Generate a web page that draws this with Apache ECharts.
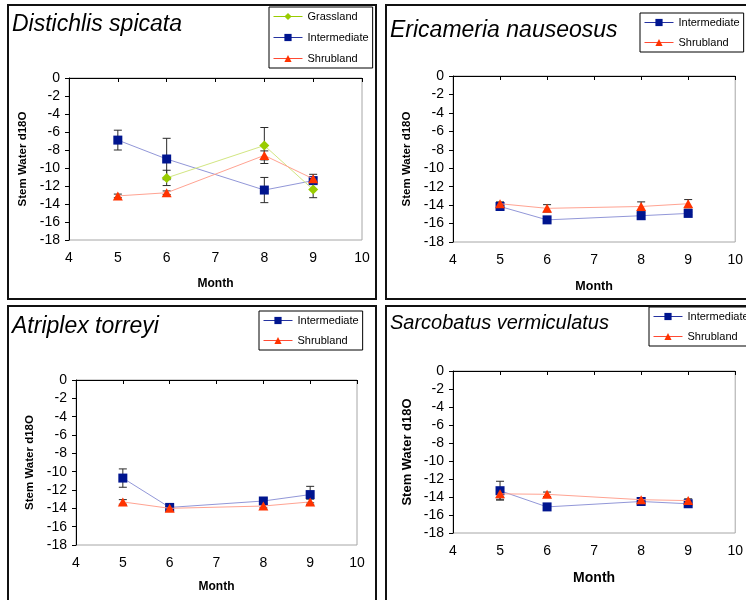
<!DOCTYPE html>
<html>
<head>
<meta charset="utf-8">
<script src="https://cdn.jsdelivr.net/npm/echarts@6/dist/echarts.min.js"></script>
<style>
html,body{margin:0;padding:0;background:#fff;}
#chart{width:746px;height:600px;}
</style>
</head>
<body>
<div id="chart"></div>
<script>
// ---------- data ----------
const months = [5, 6, 8, 9];
const xTicks = [4, 5, 6, 7, 8, 9, 10];
const yTicks = [0, -2, -4, -6, -8, -10, -12, -14, -16, -18];

const panelTitles = ["Distichlis spicata", "Ericameria nauseosus", "Atriplex torreyi", "Sarcobatus vermiculatus"];

// Panel 1: Distichlis spicata
const p1Grassland = [null, -11.1, -7.5, -12.4];
const p1GrasslandErr = [0, 0.85, 2.0, 0.9];
const p1Intermediate = [-6.9, -9.0, -12.45, -11.4];
const p1IntermediateErr = [1.1, 2.3, 1.4, 0.3];
const p1Shrubland = [-13.1, -12.75, -8.6, -11.2];
const p1ShrublandErr = [0.2, 0.2, 0.5, 0.5];

// Panel 2: Ericameria nauseosus
const p2Intermediate = [-14.15, -15.6, -15.15, -14.9];
const p2IntermediateErr = [0.3, 0.2, 0.4, 0.15];
const p2Shrubland = [-13.85, -14.35, -14.15, -13.85];
const p2ShrublandErr = [0.2, 0.4, 0.5, 0.45];

// Panel 3: Atriplex torreyi
const p3Intermediate = [-10.7, -13.9, -13.2, -12.5];
const p3IntermediateErr = [1.0, 0.15, 0.3, 0.9];
const p3Shrubland = [-13.3, -14.0, -13.75, -13.3];
const p3ShrublandErr = [0.25, 0.2, 0.2, 0.3];

// Panel 4: Sarcobatus vermiculatus
const p4Intermediate = [-13.3, -15.1, -14.5, -14.75];
const p4IntermediateErr = [1.05, 0.15, 0.2, 0.2];
const p4Shrubland = [-13.65, -13.7, -14.3, -14.4];
const p4ShrublandErr = [0.6, 0.25, 0.2, 0.2];

// ---------- styling ----------
const FONT = "'Liberation Sans', Arial, sans-serif";
const styles = {
  Grassland:    { symbol: 'diamond',  size: 10,     marker: '#99cc00', line: '#d2e682', legendLine: '#99cc00' },
  Intermediate: { symbol: 'rect',     size: 9,      marker: '#00158f', line: '#9297d8', legendLine: '#2633a0' },
  Shrubland:    { symbol: 'triangle', size: [10, 9], marker: '#ff3300', line: '#ffa392', legendLine: '#ff4a33' }
};

const panels = [
  { grid: { left: 69, top: 78, width: 293, height: 162 }, yNameGap: 40, xNameGap: 38, yNameSize: 11.5, xNameSize: 12,
    title: { left: 12, top: 13, size: 23 },
    legend: { left: 269, top: 7, itemGap: 10 },
    series: [['Grassland', p1Grassland, p1GrasslandErr], ['Intermediate', p1Intermediate, p1IntermediateErr], ['Shrubland', p1Shrubland, p1ShrublandErr]] },
  { grid: { left: 453, top: 76, width: 284, height: 166 }, yNameGap: 40, xNameGap: 38, yNameSize: 11.5, xNameSize: 12.5,
    title: { left: 390, top: 19, size: 23 },
    legend: { left: 640, top: 13, itemGap: 9 },
    series: [['Intermediate', p2Intermediate, p2IntermediateErr], ['Shrubland', p2Shrubland, p2ShrublandErr]] },
  { grid: { left: 76, top: 380, width: 281, height: 165 }, yNameGap: 40, xNameGap: 36, yNameSize: 11.5, xNameSize: 12,
    title: { left: 12, top: 315, size: 23 },
    legend: { left: 259, top: 311, itemGap: 9 },
    series: [['Intermediate', p3Intermediate, p3IntermediateErr], ['Shrubland', p3Shrubland, p3ShrublandErr]] },
  { grid: { left: 453, top: 371, width: 288, height: 162 }, yNameGap: 39, xNameGap: 38, yNameSize: 13, xNameSize: 14,
    title: { left: 390, top: 313, size: 20 },
    legend: { left: 649, top: 307, itemGap: 9 },
    series: [['Intermediate', p4Intermediate, p4IntermediateErr], ['Shrubland', p4Shrubland, p4ShrublandErr]] }
];

const grids = [], xAxes = [], yAxes = [], titles = [], legends = [], series = [];

function errorBarRender(params, api) {
  const x = api.value(0), lo = api.value(1), hi = api.value(2);
  const a = api.coord([x, hi]), b = api.coord([x, lo]);
  const hw = 4;
  const st = { stroke: '#2a2a2a', lineWidth: 1 };
  return { type: 'group', children: [
    { type: 'line', shape: { x1: a[0], y1: a[1], x2: b[0], y2: b[1] }, style: st },
    { type: 'line', shape: { x1: a[0] - hw, y1: a[1], x2: a[0] + hw, y2: a[1] }, style: st },
    { type: 'line', shape: { x1: b[0] - hw, y1: b[1], x2: b[0] + hw, y2: b[1] }, style: st }
  ]};
}

panels.forEach((p, i) => {
  grids.push(Object.assign({ show: true, borderColor: '#a6a6a6', borderWidth: 1, backgroundColor: '#fff', containLabel: false }, p.grid));
  xAxes.push({
    type: 'value', gridIndex: i, min: xTicks[0], max: xTicks[xTicks.length - 1], interval: 1,
    name: 'Month', nameLocation: 'middle', nameGap: p.xNameGap,
    nameTextStyle: { fontFamily: FONT, fontWeight: 'bold', fontSize: p.xNameSize, color: '#000' },
    axisLine: { lineStyle: { color: '#000', width: 1 } },
    axisTick: { length: 4, lineStyle: { color: '#000' } },
    axisLabel: { fontFamily: FONT, fontSize: 14, color: '#000', margin: 11 },
    splitLine: { show: false }
  });
  yAxes.push({
    type: 'value', gridIndex: i, min: yTicks[yTicks.length - 1], max: yTicks[0], interval: 2,
    name: 'Stem Water d18O', nameLocation: 'middle', nameGap: p.yNameGap,
    nameTextStyle: { fontFamily: FONT, fontWeight: 'bold', fontSize: p.yNameSize, color: '#000' },
    axisLine: { show: true, lineStyle: { color: '#000', width: 1 } },
    axisTick: { show: true, length: 4, lineStyle: { color: '#000' } },
    axisLabel: { fontFamily: FONT, fontSize: 14, color: '#000', margin: 9 },
    splitLine: { show: false }
  });
  titles.push({
    text: panelTitles[i], left: p.title.left, top: p.title.top, padding: 0,
    textStyle: { fontFamily: FONT, fontStyle: 'italic', fontWeight: 'normal', fontSize: p.title.size, color: '#000' }
  });
  legends.push({
    orient: 'vertical', left: p.legend.left, top: p.legend.top,
    padding: [4, 4, 4, 4], itemGap: p.legend.itemGap, itemWidth: 29, itemHeight: 9,
    borderColor: '#000', borderWidth: 1, backgroundColor: '#fff',
    textStyle: { fontFamily: FONT, fontSize: 11, color: '#000' },
    selectedMode: false,
    data: p.series.map(s => ({ name: s[0], lineStyle: { color: styles[s[0]].legendLine, width: 1, opacity: 1 } }))
  });
  p.series.forEach(s => {
    const name = s[0], vals = s[1], errs = s[2], st = styles[name];
    const pts = [], eb = [];
    months.forEach((m, k) => {
      if (vals[k] === null) return;
      pts.push([m, vals[k]]);
      if (errs[k] > 0) eb.push([m, vals[k] - errs[k], vals[k] + errs[k]]);
    });
    series.push({
      type: 'custom', xAxisIndex: i, yAxisIndex: i, z: 2, silent: true,
      renderItem: errorBarRender, encode: { x: 0, y: [1, 2] }, data: eb
    });
    series.push({
      name: name, type: 'line', xAxisIndex: i, yAxisIndex: i, z: 3 + (name === 'Intermediate' ? 0 : 1),
      data: pts, symbol: st.symbol, symbolSize: st.size, showSymbol: true,
      lineStyle: { color: st.line, width: 1 },
      itemStyle: { color: st.marker, borderWidth: 0 },
      emphasis: { disabled: true },
      animation: false
    });
  });
});

const frameStyle = { fill: 'none', stroke: '#111', lineWidth: 2 };
const graphics = [
  { type: 'rect', shape: { x: 8, y: 5, width: 368, height: 294 }, style: frameStyle, z: 100 },
  { type: 'rect', shape: { x: 386, y: 5, width: 380, height: 294 }, style: frameStyle, z: 100 },
  { type: 'rect', shape: { x: 8, y: 306, width: 368, height: 320 }, style: frameStyle, z: 100 },
  { type: 'rect', shape: { x: 386, y: 306, width: 380, height: 320 }, style: frameStyle, z: 100 }
];

const chart = echarts.init(document.getElementById('chart'), null, { renderer: 'canvas' });
chart.setOption({
  animation: false,
  backgroundColor: '#fff',
  title: titles,
  legend: legends,
  grid: grids,
  xAxis: xAxes,
  yAxis: yAxes,
  series: series,
  graphic: graphics
});
</script>
</body>
</html>
